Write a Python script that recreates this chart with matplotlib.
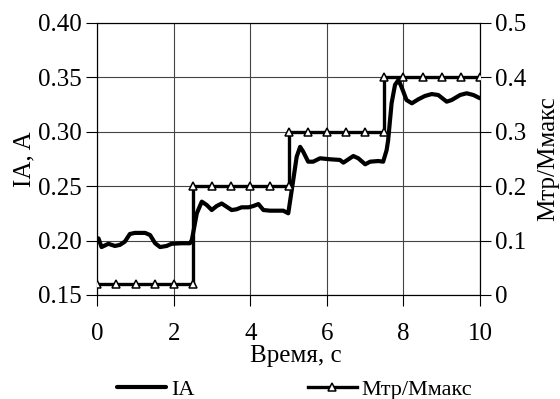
import matplotlib
matplotlib.use("Agg")
import matplotlib.pyplot as plt

plt.rcParams['font.family'] = ['Liberation Serif', 'DejaVu Serif']

# Current IA (left axis)
t_ia = [0.03, 0.11, 0.29, 0.46, 0.59, 0.72, 0.85, 0.98, 1.25, 1.38, 1.51, 1.64, 1.81, 1.94,
        2.2, 2.42, 2.47, 2.6, 2.73, 2.86, 2.99, 3.12, 3.25, 3.38, 3.51, 3.64, 3.77, 3.95,
        4.08, 4.21, 4.34, 4.51, 4.86, 4.99, 5.12, 5.21, 5.30, 5.38, 5.51, 5.64, 5.82, 6.08,
        6.34, 6.43, 6.69, 6.82, 7.0, 7.13, 7.34, 7.47, 7.56, 7.6, 7.69, 7.78, 7.87, 7.95,
        8.08, 8.22, 8.39, 8.56, 8.74, 8.91, 9.13, 9.26, 9.48, 9.65, 9.83, 10.0]
ia = [0.202, 0.194, 0.197, 0.195, 0.196, 0.199, 0.206, 0.207, 0.207, 0.205, 0.1975, 0.194,
      0.195, 0.197, 0.1975, 0.1975, 0.2005, 0.225, 0.2357, 0.2326, 0.228, 0.2317, 0.234,
      0.231, 0.228, 0.2287, 0.2305, 0.2305, 0.2317, 0.2335, 0.228, 0.2274, 0.2274, 0.225,
      0.2556, 0.277, 0.286, 0.2816, 0.2724, 0.2724, 0.2755, 0.2746, 0.274, 0.2715, 0.2776,
      0.2755, 0.270, 0.2724, 0.273, 0.2724, 0.283, 0.292, 0.326, 0.343, 0.3474, 0.341,
      0.329, 0.326, 0.3297, 0.3327, 0.3345, 0.3336, 0.3275, 0.329, 0.3336, 0.3352, 0.3336,
      0.3306]

# Torque ratio (right axis)
t_m = [0, 0.5, 1.0, 1.5, 2.0, 2.5, 2.5, 3.0, 3.5, 4.0, 4.5, 5.0, 5.0, 5.5, 6.0, 6.5, 7.0,
       7.5, 7.5, 8.0, 8.5, 9.0, 9.5, 10.0]
m = [0.02, 0.02, 0.02, 0.02, 0.02, 0.02, 0.2, 0.2, 0.2, 0.2, 0.2, 0.2, 0.3, 0.3, 0.3, 0.3,
     0.3, 0.3, 0.4, 0.4, 0.4, 0.4, 0.4, 0.4]

xticks = [0, 2, 4, 6, 8, 10]
yticks_left = [0.15, 0.20, 0.25, 0.30, 0.35, 0.40]
yticks_right = [0, 0.1, 0.2, 0.3, 0.4, 0.5]

fig = plt.figure(figsize=(5.6, 3.99), dpi=100)
ax = fig.add_axes([0.1738, 0.2607, 0.6833, 0.6824])
ax2 = ax.twinx()

l1, = ax.plot(t_ia, ia, color='black', lw=3.0, solid_joinstyle='round',
              solid_capstyle='round', zorder=3)
l2, = ax2.plot(t_m, m, color='black', lw=2.4, marker='^', markersize=6,
               markerfacecolor='white', markeredgecolor='black', markeredgewidth=1.1,
               zorder=3)

ax.set_xlim(0, 10)
ax.set_ylim(0.15, 0.40)
ax2.set_ylim(0, 0.5)
ax.set_xticks(xticks)
ax.set_xticklabels([str(v) for v in xticks])
ax.set_yticks(yticks_left)
ax.set_yticklabels([f"{v:.2f}" for v in yticks_left])
ax2.set_yticks(yticks_right)
ax2.set_yticklabels(["0" if v == 0 else f"{v:.1f}" for v in yticks_right])

ax.grid(True, color='#444444', lw=0.8)
ax.set_axisbelow(True)
fs = 18
for a in (ax, ax2):
    a.tick_params(direction='out', length=8, width=0.8, labelsize=fs, pad=3)
    for s in a.spines.values():
        s.set_linewidth(0.8)
        s.set_color('black')
ax.tick_params(axis='x', pad=12)

ax.set_xlabel("Время, с", fontsize=fs)
ax.xaxis.set_label_coords(0.52, -0.185)
ax.set_ylabel("IA, A", fontsize=fs, labelpad=2)
ax2.set_ylabel("Мтр/Ммакс", fontsize=fs, labelpad=8)

fig.legend([l1, l2], ["IA", "Мтр/Ммакс"], loc='center', bbox_to_anchor=(0.526, 0.024),
           ncol=2, frameon=False, fontsize=16, handlelength=2.2, handletextpad=0.23,
           columnspacing=5.1, borderpad=0)

fig.savefig("out.png", dpi=100)
